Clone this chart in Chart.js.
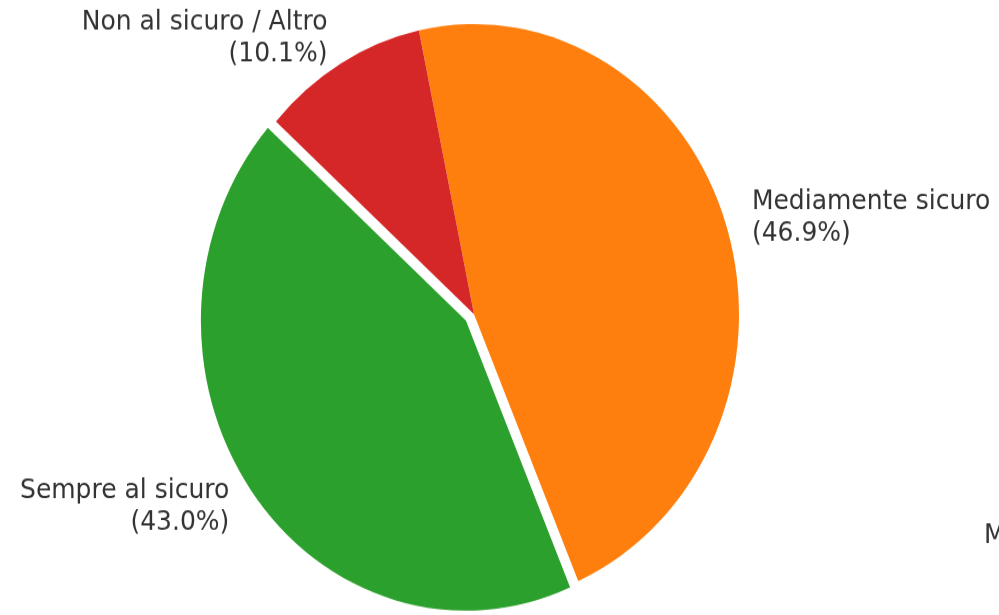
<!DOCTYPE html>
<html>
<head>
<meta charset="utf-8">
<script src="https://cdn.jsdelivr.net/npm/chart.js@4/dist/chart.umd.min.js"></script>
<style>
  html, body { margin: 0; padding: 0; background: #ffffff; overflow: hidden; width: 999px; height: 615px; }
  #wrap { width: 999px; height: 562px; transform: scaleY(1.0947); transform-origin: 0 0; }
  canvas { display: block; }
</style>
</head>
<body>
<div id="wrap"><canvas id="c" width="999" height="562"></canvas></div>
<script>
// ---- data ----
const categories = ["Mediamente sicuro", "Sempre al sicuro", "Non al sicuro / Altro"];
const shares = [46.9, 43.0, 10.1];
const sliceColors = ["#ff7f0e", "#2ca02c", "#d62728"];
const explode = [0, 10, 0];
const startRotation = -12;

const labelFont = '25px "DejaVu Sans"';
const labelColor = "#333333";

// pull exploded slices outward along their mid angle (same radius)
const explodeSlices = {
  id: "explodeSlices",
  afterUpdate(chart) {
    const meta = chart.getDatasetMeta(0);
    meta.data.forEach((arc, i) => {
      const e = explode[i] || 0;
      if (!e) return;
      const mid = (arc.startAngle + arc.endAngle) / 2;
      arc.x += Math.cos(mid) * e;
      arc.y += Math.sin(mid) * e;
    });
  }
};

const outsideLabels = {
  id: "outsideLabels",
  afterDatasetsDraw(chart) {
    const ctx = chart.ctx;
    const meta = chart.getDatasetMeta(0);
    const data = chart.data.datasets[0].data;
    const total = data.reduce((a, b) => a + b, 0);
    ctx.save();
    ctx.font = labelFont;
    ctx.fillStyle = labelColor;
    ctx.textBaseline = "middle";
    meta.data.forEach((arc, i) => {
      const p = arc.getProps(["x", "y", "startAngle", "endAngle", "outerRadius"], true);
      const mid = (p.startAngle + p.endAngle) / 2;
      const d = p.outerRadius * 1.1;
      const x = p.x + Math.cos(mid) * d;
      const y = p.y + Math.sin(mid) * d;
      ctx.textAlign = Math.cos(mid) >= 0 ? "left" : "right";
      const lines = [chart.data.labels[i], "(" + (data[i] / total * 100).toFixed(1) + "%)"];
      const lh = 28.5;
      lines.forEach((t, j) => {
        ctx.fillText(t, x, y + (j - (lines.length - 1) / 2) * lh);
      });
    });
    // partially visible text at the right edge of the picture
    ctx.textAlign = "left";
    ctx.fillText("M", 984, 489);
    ctx.restore();
  }
};

new Chart(document.getElementById("c"), {
  type: "pie",
  data: {
    labels: categories,
    datasets: [{
      data: shares,
      backgroundColor: sliceColors,
      borderWidth: 0,
      hoverOffset: 0
    }]
  },
  options: {
    responsive: false,
    animation: false,
    rotation: startRotation,
    radius: 265,
    layout: { padding: { left: 0, right: 51, top: 12, bottom: 0 } },
    plugins: {
      legend: { display: false },
      tooltip: { enabled: false }
    }
  },
  plugins: [explodeSlices, outsideLabels]
});
</script>
</body>
</html>
